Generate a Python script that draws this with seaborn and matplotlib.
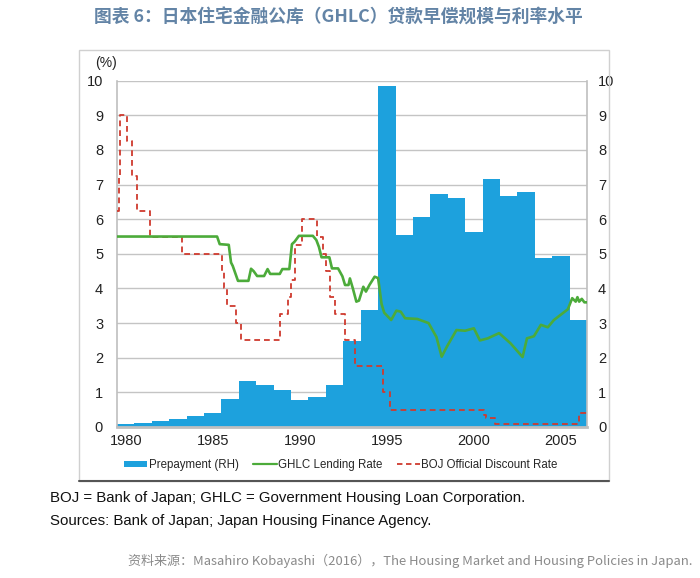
import matplotlib
matplotlib.use("Agg")
import matplotlib.pyplot as plt
import seaborn as sns
import pandas as pd
from matplotlib.patches import Patch, Rectangle
from matplotlib.lines import Line2D

# ---------------- data ----------------
years = list(range(1980, 2007))
prepayment = [0.10, 0.12, 0.16, 0.22, 0.32, 0.41, 0.82, 1.33, 1.20, 1.08,
              0.77, 0.87, 1.20, 2.47, 3.38, 9.85, 5.55, 6.06, 6.73, 6.60,
              5.62, 7.16, 6.66, 6.79, 4.88, 4.94, 3.10]

ghlc_time = [1980.0, 1985.75, 1985.9, 1986.42, 1986.55, 1986.65, 1986.95, 1987.55,
             1987.7, 1987.85, 1988.05, 1988.45, 1988.65, 1988.8, 1989.35, 1989.5,
             1989.9, 1990.05, 1990.2, 1990.45, 1991.25, 1991.45, 1991.6, 1991.75,
             1992.2, 1992.35, 1992.7, 1992.95, 1993.1, 1993.3, 1993.38, 1993.55,
             1993.75, 1993.9, 1994.15, 1994.3, 1994.5, 1994.8, 1995.0, 1995.2,
             1995.35, 1995.75, 1996.05, 1996.3, 1996.55, 1997.25, 1997.9, 1998.35,
             1998.65, 1998.95, 1999.5, 2000.0, 2000.5, 2000.85, 2001.3, 2001.95,
             2002.6, 2003.3, 2003.55, 2003.95, 2004.35, 2004.75, 2005.1, 2005.9,
             2006.15, 2006.35, 2006.45, 2006.55, 2006.7, 2006.85, 2007.0]
ghlc_rate = [5.5, 5.5, 5.28, 5.26, 4.75, 4.65, 4.22, 4.22,
             4.57, 4.5, 4.36, 4.36, 4.56, 4.42, 4.42, 4.56,
             4.56, 5.28, 5.35, 5.52, 5.52, 5.4, 5.2, 4.9,
             4.9, 4.58, 4.58, 4.35, 4.1, 4.1, 4.29, 4.0,
             3.62, 3.65, 4.05, 3.91, 4.1, 4.34, 4.3, 3.55,
             3.3, 3.09, 3.36, 3.33, 3.14, 3.12, 3.0, 2.6,
             2.03, 2.32, 2.8, 2.78, 2.85, 2.5, 2.56, 2.71,
             2.42, 2.02, 2.56, 2.62, 2.95, 2.88, 3.09, 3.4,
             3.72, 3.62, 3.75, 3.62, 3.7, 3.6, 3.6]

boj_time = [1980.0, 1980.1, 1980.2, 1980.55, 1980.85, 1981.15, 1981.9, 1983.75,
            1986.05, 1986.15, 1986.3, 1986.82, 1987.15, 1989.35, 1989.8, 1990.0,
            1990.23, 1990.62, 1991.5, 1991.85, 1992.0, 1992.25, 1992.55, 1993.1,
            1993.68, 1995.3, 1995.7, 2001.1, 2001.2, 2001.72, 2006.53, 2007.0]
boj_rate = [6.25, 7.25, 9.0, 8.25, 7.25, 6.25, 5.5, 5.0,
            4.5, 4.0, 3.5, 3.0, 2.5, 3.25, 3.75, 4.25,
            5.25, 6.0, 5.5, 5.0, 4.5, 3.75, 3.25, 2.5,
            1.75, 1.0, 0.5, 0.35, 0.25, 0.1, 0.4, 0.4]

x_ticklabels = ["1980", "1985", "1990", "1995", "2000", "2005"]
y_ticks = list(range(0, 11))

title = "图表 6：日本住宅金融公库（GHLC）贷款早偿规模与利率水平"
note1 = "BOJ = Bank of Japan; GHLC = Government Housing Loan Corporation."
note2 = "Sources: Bank of Japan; Japan Housing Finance Agency."
source = "资料来源：Masahiro Kobayashi（2016），The Housing Market and Housing Policies in Japan."

# ---------------- style ----------------
sns.set_theme(style="white")
plt.rcParams['font.family'] = ['Liberation Sans', 'Noto Sans CJK SC', 'DejaVu Sans']

BLUE = "#1DA1DD"
GREEN = "#4CAB3A"
RED = "#CF3A2E"
GRID = "#C4C4C4"
AXC = "#BFBFBF"

fig = plt.figure(figsize=(7.0, 5.78), dpi=100)
ax = fig.add_axes([117/700, 1-427/578, (587-117)/700, (427-80.7)/578])

df_bar = pd.DataFrame({"year": [str(y) for y in years], "prepay": prepayment})
sns.barplot(data=df_bar, x="year", y="prepay", color=BLUE, saturation=1,
            width=1.0, edgecolor="none", linewidth=0, ax=ax, zorder=2)

df_g = pd.DataFrame({"x": [t - 1980 - 0.5 for t in ghlc_time], "y": ghlc_rate})
df_b = pd.DataFrame({"x": [t - 1980 - 0.5 for t in boj_time], "y": boj_rate})
sns.lineplot(data=df_g, x="x", y="y", color=GREEN, lw=1.9, estimator=None,
             ax=ax, zorder=4)
sns.lineplot(data=df_b, x="x", y="y", color=RED, lw=1.3, estimator=None,
             drawstyle="steps-post", dashes=False, ax=ax, zorder=3)
ax.lines[-1].set_dashes([3.2, 2.2])

ax.set_xlim(-0.5, 26.5)
ax.set_ylim(0, 10)
ax.set_yticks(y_ticks)
ax.set_yticklabels([str(v) for v in y_ticks])
ax.set_xticks([0, 5, 10, 15, 20, 25])
ax.set_xticklabels(x_ticklabels)
ax.set_xlabel("")
ax.set_ylabel("")
ax.set_axisbelow(True)
ax.yaxis.grid(True, color=GRID, lw=1.0, zorder=0)
ax.xaxis.grid(False)
ax.spines["top"].set_visible(False)
ax.spines["left"].set_color(AXC)
ax.spines["right"].set_color(AXC)
ax.spines["bottom"].set_color(AXC)
ax.spines["bottom"].set_linewidth(2.0)
ax.spines["left"].set_linewidth(1.2)
ax.spines["right"].set_linewidth(1.2)
ax.tick_params(axis="both", length=0, labelsize=10.5, colors="#222222")
ax.tick_params(axis="y", pad=10)
ax.tick_params(axis="x", pad=5)

ax2 = ax.twinx()
ax2.set_ylim(0, 10)
ax2.set_yticks(y_ticks)
ax2.set_yticklabels([str(v) for v in y_ticks])
ax2.tick_params(axis="y", length=0, labelsize=10.5, colors="#222222", pad=8)
for s in ax2.spines.values():
    s.set_visible(False)
ax2.grid(False)

fig.text(95/700, 1-63/578, "(%)", fontsize=10, color="#222222", ha="left", va="center")

# legend
handles = [Patch(facecolor=BLUE, edgecolor="none"),
           Line2D([0], [0], color=GREEN, lw=1.6),
           Line2D([0], [0], color=RED, lw=1.3, dashes=[3, 2])]
labels = ["Prepayment (RH)", "GHLC Lending Rate", "BOJ Official Discount Rate"]
fig.legend(handles, labels, loc="center", bbox_to_anchor=(341/700, 1-465/578),
           ncol=3, frameon=False, fontsize=8.3, handlelength=2.0,
           handleheight=0.45, handletextpad=0.1, columnspacing=1.3)

# outer frame
fig.add_artist(Rectangle((79/700, 1-481/578), (609-79)/700, (481-50)/578,
                         transform=fig.transFigure, fill=False,
                         edgecolor="#D0D0D0", lw=1.0))
fig.add_artist(Line2D([79/700, 609/700], [1-481/578, 1-481/578],
                      transform=fig.transFigure, color="#555555", lw=1.5))

# texts
fig.text(338/700, 1-18/578, title, ha="center", va="center", fontsize=12.8,
         fontweight="bold", color="#6384A6",
         family=["Noto Sans CJK SC", "DejaVu Sans"])
fig.text(50/700, 1-498/578, note1, ha="left", va="center", fontsize=10.8,
         color="#111111")
fig.text(50/700, 1-521/578, note2, ha="left", va="center", fontsize=10.8,
         color="#111111")
fig.text(693/700, 1-561/578, source, ha="right", va="center", fontsize=9.4,
         color="#8A8A8A", family=["Noto Sans CJK SC", "DejaVu Sans"])

fig.savefig("out.png", dpi=100, facecolor="white")
